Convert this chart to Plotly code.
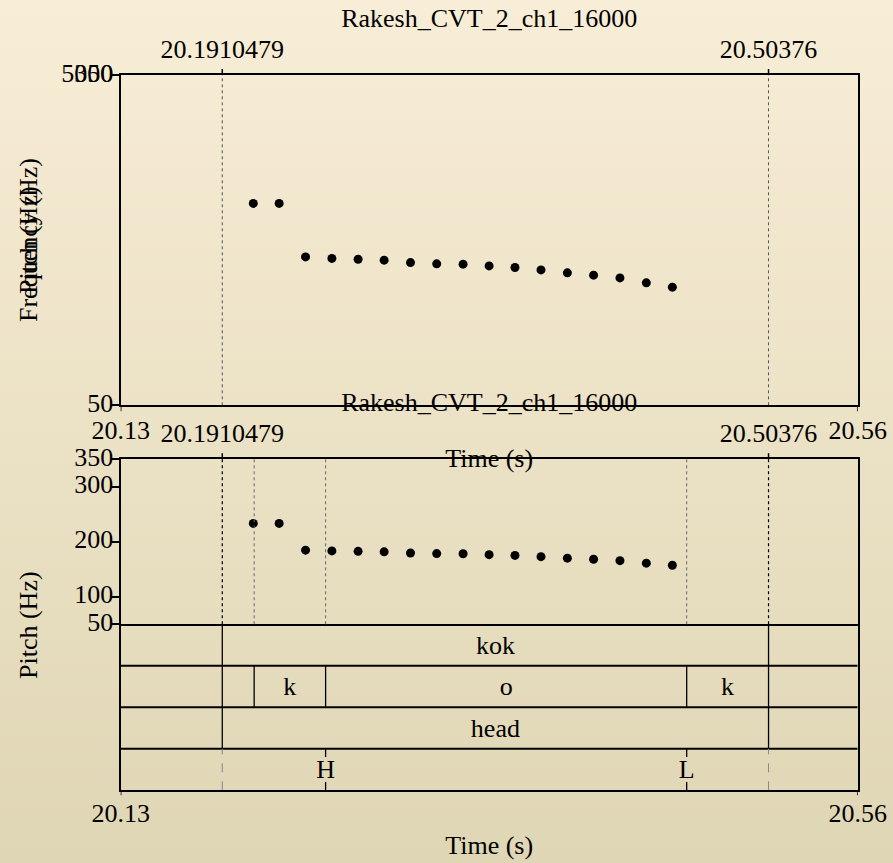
import plotly.graph_objects as go

# ---------------- data ----------------
title_text = "Rakesh_CVT_2_ch1_16000"
x_range = [20.1329, 20.5548]
x_end_labels = ["20.13", "20.56"]
sel_start = 20.1910479
sel_end = 20.50376
sel_labels = ["20.1910479", "20.50376"]

pitch_times = [20.2088, 20.2236, 20.2387, 20.2538, 20.2688, 20.2837, 20.2988, 20.3138,
               20.3289, 20.3438, 20.3586, 20.3735, 20.3886, 20.4036, 20.4187, 20.4338, 20.4487]
pitch_hz = [233.4, 233.4, 184.8, 183.4, 182.7, 181.8, 179.6, 178.5,
            178.2, 176.6, 175.2, 173.0, 170.3, 168.2, 165.7, 161.2, 157.3]

top_yticks = [50, 350]
top_ytick_text = ["50", "350"]
top_extra_label = "5000"
pitch_yticks = [50, 100, 200, 300, 350]
pitch_ytick_text = ["50", "100", "200", "300", "350"]

word_bounds = [sel_start, sel_end]
word_labels = ["kok"]
seg_bounds = [sel_start, 20.2093, 20.2502, 20.4569, sel_end]
seg_labels = ["", "k", "o", "k"]
phrase_bounds = [sel_start, sel_end]
phrase_labels = ["head"]
tone_times = [20.2502, 20.4569]
tone_labels = ["H", "L"]

# ---------------- layout helpers ----------------
W, H = 893, 863
FONT = "Liberation Serif"
FS = 26


def fx(px):
    return px / W


def fy(py):
    return 1 - py / H


LEFT, RIGHT = 120.7, 857.7
TOP1, BOT1 = 75.0, 405.3
TOP2, BOT2 = 459.3, 624.3
BOT3 = 790.3

fig = go.Figure()

# gradient background
N = 108
c_top = (248, 237, 214)
c_bot = (223, 214, 181)
shapes = []
for i in range(N):
    t = (i + 0.5) / N
    c = tuple(round(c_top[k] + (c_bot[k] - c_top[k]) * t) for k in range(3))
    shapes.append(dict(type="rect", xref="paper", yref="paper", x0=0, x1=1,
                       y0=max(0, 1 - (i + 1) / N - 0.001), y1=1 - i / N,
                       fillcolor="rgb(%d,%d,%d)" % c, line=dict(width=0), layer="below"))

# pitch points
for xa, ya in (("x", "y"), ("x2", "y2")):
    fig.add_trace(go.Scatter(x=pitch_times, y=pitch_hz, mode="markers", xaxis=xa, yaxis=ya,
                             marker=dict(size=9, color="black"), showlegend=False,
                             hoverinfo="skip"))

tfont = dict(family=FONT, size=FS, color="black")


def text_trace(xs, ys, texts, xa, ya, pos="middle center"):
    fig.add_trace(go.Scatter(x=xs, y=ys, text=texts, mode="text", textposition=pos,
                             textfont=tfont, xaxis=xa, yaxis=ya, cliponaxis=False,
                             showlegend=False, hoverinfo="skip"))


mid_x = (x_range[0] + x_range[1]) / 2
# titles / x labels (x in data units, y in pixel rows of the overlay axis)
text_trace([mid_x, mid_x], [20, 404], [title_text, title_text], "x", "y4")
text_trace([sel_start, sel_end], [51, 51], sel_labels, "x", "y4")
text_trace([sel_start, sel_end], [435, 435], sel_labels, "x", "y4")
text_trace(x_range, [432, 432], x_end_labels, "x", "y4")
text_trace(x_range, [815, 815], x_end_labels, "x", "y4")
text_trace([mid_x, mid_x], [460, 847], ["Time (s)", "Time (s)"], "x", "y4")
# y tick labels (x in pixel columns of the overlay axis)
LAB_X = LEFT - 7.5
text_trace([LAB_X] * len(top_yticks), top_yticks, top_ytick_text, "x4", "y", "middle left")
text_trace([LAB_X], [top_yticks[-1]], [top_extra_label], "x4", "y", "middle left")
text_trace([LAB_X] * len(pitch_yticks), pitch_yticks, pitch_ytick_text, "x4", "y2", "middle left")

axis_common = dict(showgrid=False, zeroline=False, showline=True,
                   linecolor="black", linewidth=2, fixedrange=True)
xdom = [fx(LEFT), fx(RIGHT)]

fig.update_layout(
    width=W, height=H,
    margin=dict(l=0, r=0, t=0, b=0, autoexpand=False),
    paper_bgcolor="rgb(236,226,199)",
    plot_bgcolor="rgba(0,0,0,0)",
    font=dict(family=FONT, size=FS, color="black"),
    xaxis=dict(domain=xdom, range=x_range, anchor="y", showticklabels=False, ticks="",
               mirror=True, **axis_common),
    yaxis=dict(domain=[fy(BOT1), fy(TOP1)], range=[50, 350], anchor="x", tickvals=top_yticks,
               showticklabels=False, ticks="outside", ticklen=7, tickwidth=1.5, tickcolor="black",
               mirror=True, **axis_common),
    xaxis2=dict(domain=xdom, range=x_range, anchor="y2", showticklabels=False, ticks="",
                mirror=True, **axis_common),
    yaxis2=dict(domain=[fy(BOT2), fy(TOP2)], range=[50, 350], anchor="x2", tickvals=pitch_yticks,
                showticklabels=False, ticks="outside", ticklen=7, tickwidth=1.5, tickcolor="black",
                mirror=True, **axis_common),
    xaxis3=dict(domain=xdom, range=x_range, anchor="y3", showticklabels=False, ticks="",
                mirror=False, **axis_common),
    yaxis3=dict(domain=[fy(BOT3), fy(BOT2)], range=[0, 4], anchor="x3", showticklabels=False,
                ticks="", mirror=True, **axis_common),
    xaxis4=dict(domain=[0, 1], range=[0, W], anchor="y4", visible=False, fixedrange=True),
    yaxis4=dict(domain=[0, 1], range=[H, 0], anchor="x4", visible=False, fixedrange=True),
)


def vline(xv, xref, y0, y1, color="black", width=1, dash="solid"):
    shapes.append(dict(type="line", xref=xref, yref="paper", x0=xv, x1=xv, y0=y0, y1=y1,
                       line=dict(color=color, width=width, dash=dash)))


# top panel selection lines + ticks
for s in (sel_start, sel_end):
    vline(s, "x", fy(BOT1), fy(TOP1), color="#555555", width=1, dash="dot")
    vline(s, "x", fy(TOP1), fy(TOP1 - 6), width=1.5)
    vline(s, "x2", fy(TOP2), fy(TOP2 - 6), width=1.5)
for s in x_range:
    vline(s, "x", fy(BOT1), fy(BOT1 + 6), width=1.5)
    vline(s, "x3", fy(BOT3), fy(BOT3 + 5), width=1.5)

# pitch panel dotted lines
for s in (sel_start, sel_end):
    vline(s, "x2", fy(BOT2), fy(TOP2), color="black", width=1.2, dash="dot")
for s in seg_bounds[1:-1]:
    vline(s, "x2", fy(BOT2), fy(TOP2), color="#666666", width=1, dash="dot")

# tiers: horizontal separators
for k in (1, 2, 3):
    shapes.append(dict(type="line", xref="x3", yref="y3", x0=x_range[0], x1=x_range[1], y0=k, y1=k,
                       line=dict(color="black", width=2)))

annotations = []


def interval_tier(bounds, labels, row):
    y_lo, y_hi = 3 - row, 4 - row
    for b in bounds:
        shapes.append(dict(type="line", xref="x3", yref="y3", x0=b, x1=b, y0=y_lo, y1=y_hi,
                           line=dict(color="black", width=1.3)))
    xs, ys, ts = [], [], []
    for i, lab in enumerate(labels):
        if lab:
            xs.append((bounds[i] + bounds[i + 1]) / 2)
            ys.append((y_lo + y_hi) / 2 - 0.05)
            ts.append(lab)
    text_trace(xs, ys, ts, "x3", "y3")


interval_tier(word_bounds, word_labels, 0)
interval_tier(seg_bounds, seg_labels, 1)
interval_tier(phrase_bounds, phrase_labels, 2)

# point tier
for s in (sel_start, sel_end):
    shapes.append(dict(type="line", xref="x3", yref="y3", x0=s, x1=s, y0=0, y1=1,
                       line=dict(color="#888888", width=1, dash="dash")))
for t in tone_times:
    shapes.append(dict(type="line", xref="x3", yref="y3", x0=t, x1=t, y0=0.8, y1=1,
                       line=dict(color="black", width=1.3)))
    shapes.append(dict(type="line", xref="x3", yref="y3", x0=t, x1=t, y0=0, y1=0.2,
                       line=dict(color="black", width=1.3)))
text_trace(tone_times, [0.45] * len(tone_times), tone_labels, "x3", "y3")


def rot_label(text, px, py):
    annotations.append(dict(x=fx(px), y=fy(py), xref="paper", yref="paper", text=text,
                            showarrow=False, font=tfont, xanchor="center", yanchor="middle",
                            textangle=-90))


rot_label("Frequency (Hz)", 28, 240)
rot_label("Pitch (Hz)", 28, 240)
rot_label("Pitch (Hz)", 28, 625)

fig.update_layout(shapes=shapes, annotations=annotations)
fig.write_html("out.html")
